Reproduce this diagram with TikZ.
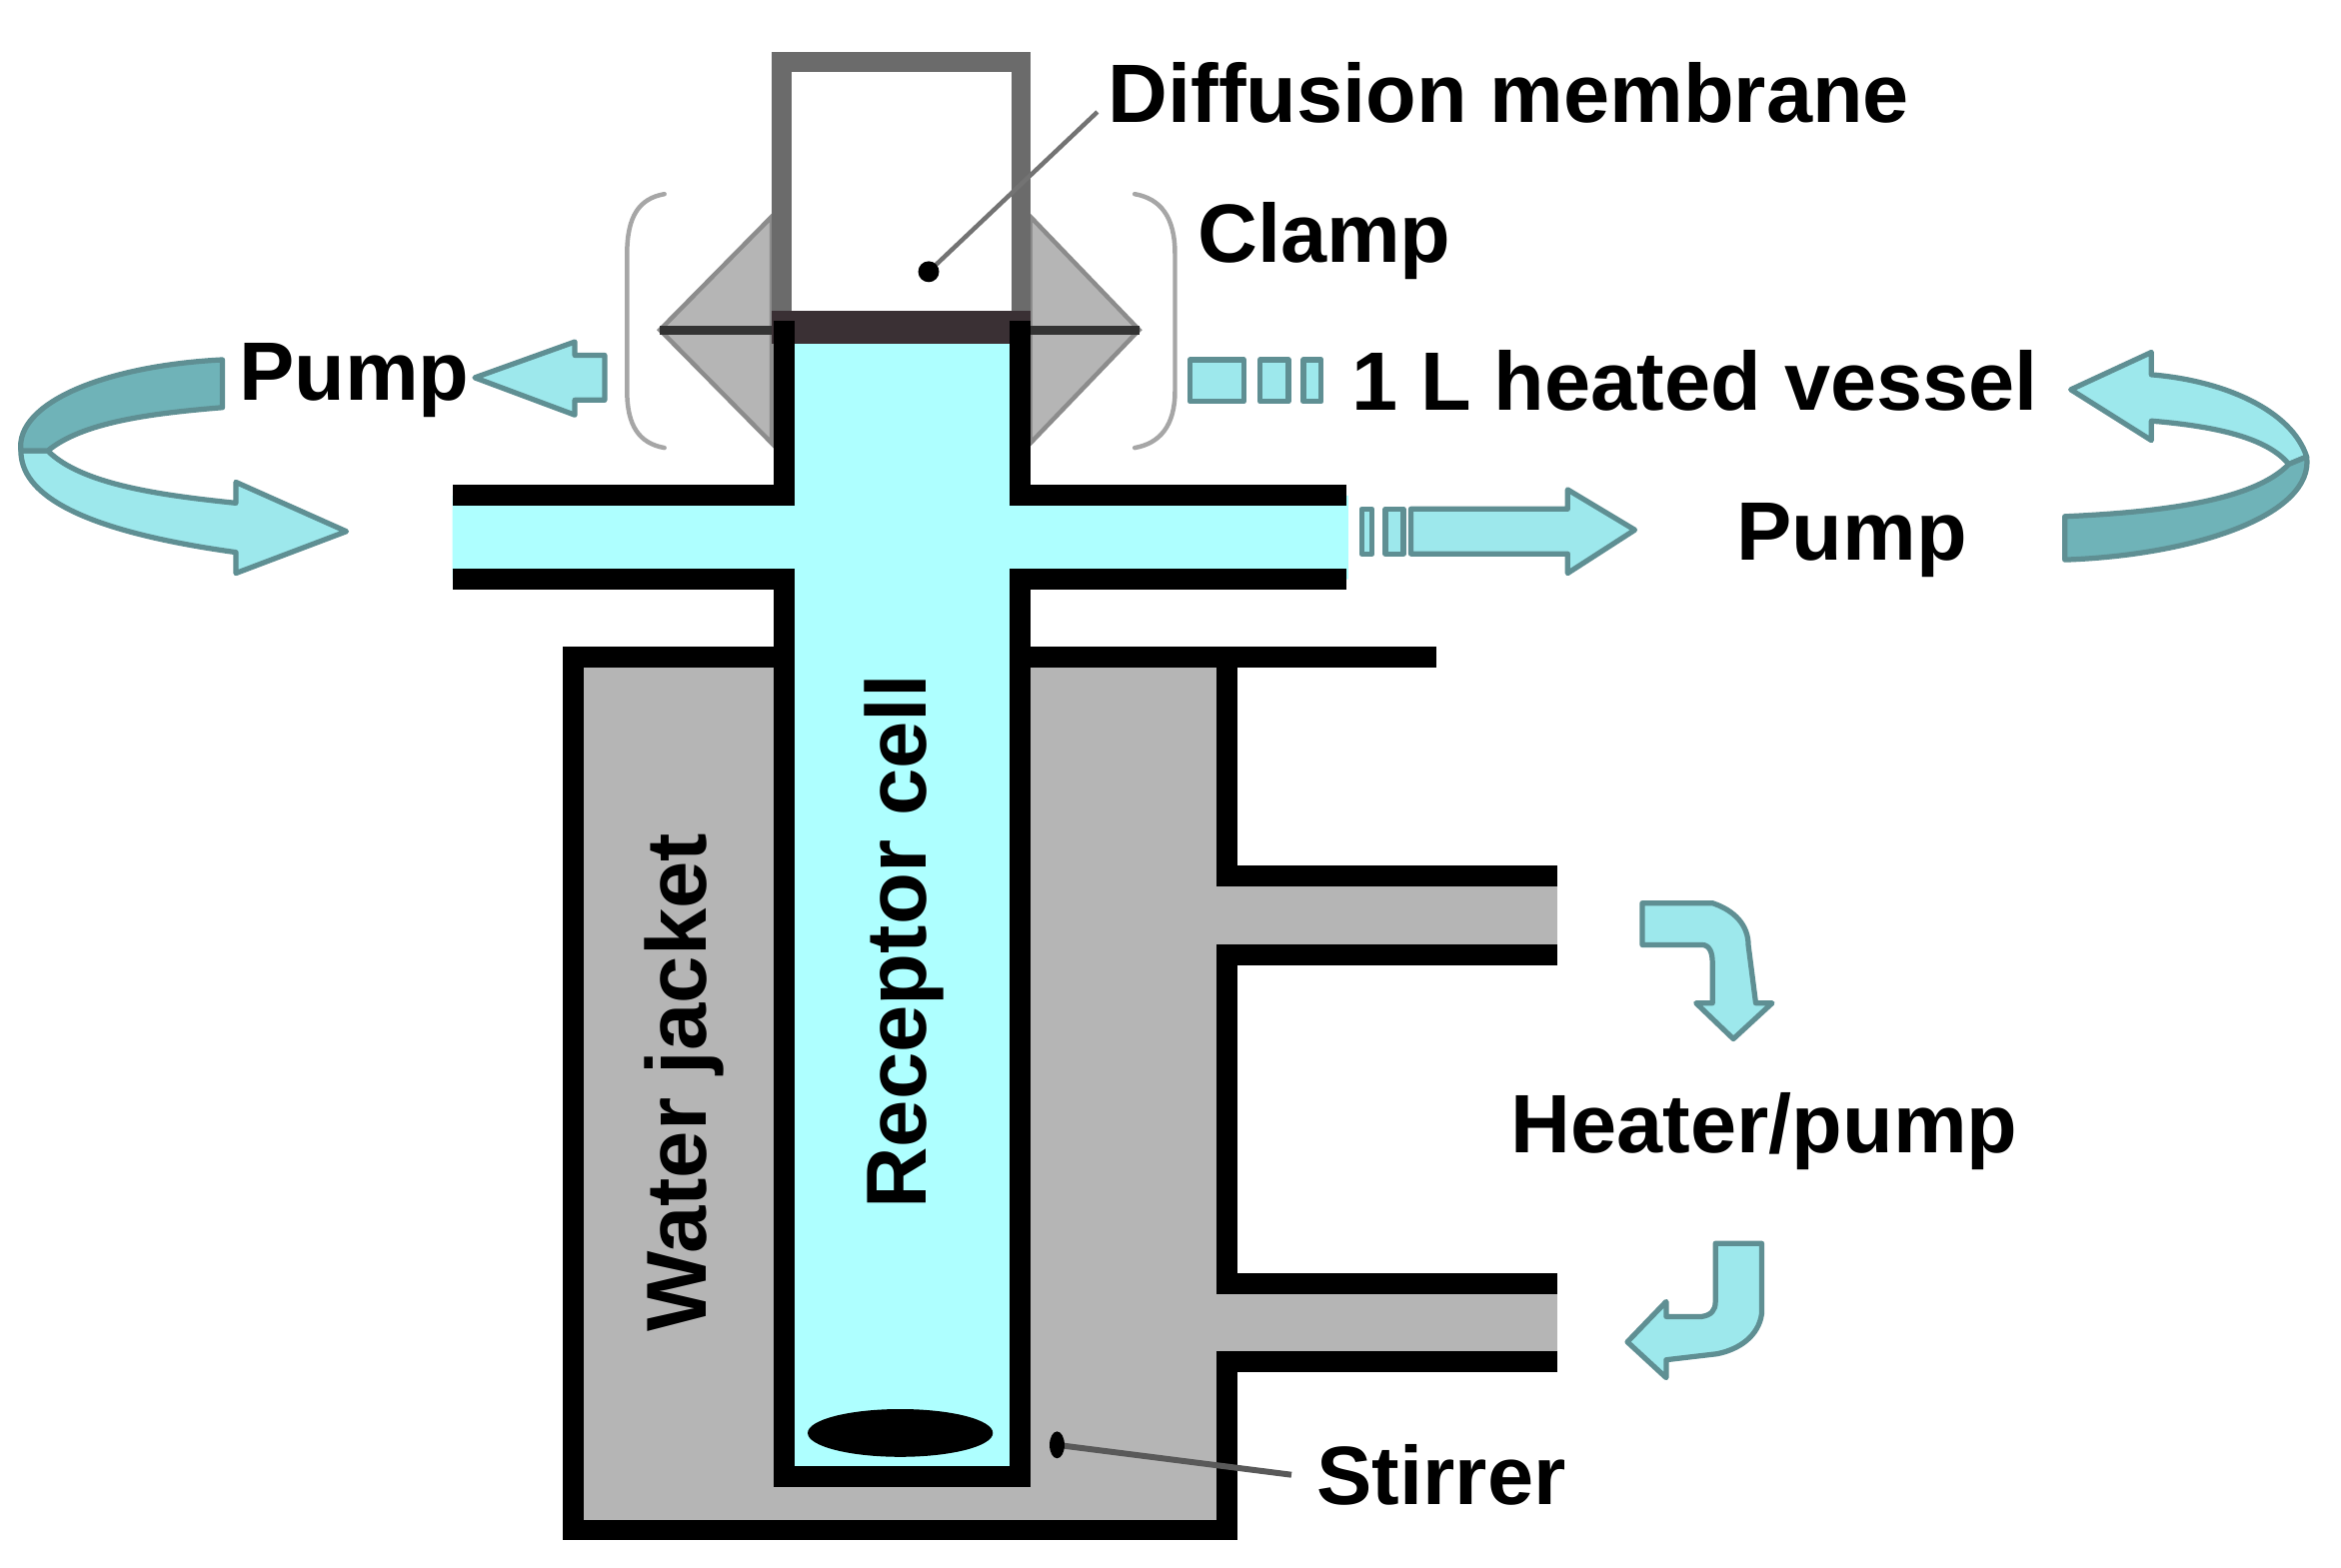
\documentclass[tikz,border=0pt]{standalone}
\usepackage{fontspec}
\usetikzlibrary{shapes.geometric}
\setmainfont{Liberation Sans}
\definecolor{cell}{HTML}{AEFFFF}
\definecolor{jacket}{HTML}{B5B5B5}
\definecolor{arrowfill}{HTML}{9DE8EC}
\definecolor{arrowdark}{HTML}{6FB3B8}
\definecolor{arrowedge}{HTML}{5F8F93}
\definecolor{membrane}{HTML}{3A3034}
\tikzset{
  wall/.style={line width=14pt,black,miter limit=10},
  glass/.style={line width=13pt,draw=black!58},
  blockarrow/.style={fill=arrowfill,draw=arrowedge,line width=3.5pt,line join=round},
  darkband/.style={fill=arrowdark,draw=arrowedge,line width=3.5pt,line join=round},
  clampwing/.style={fill=jacket,draw=black!45,line width=3pt},
  bracket/.style={draw=black!35,line width=3pt,line cap=round},
  leader/.style={draw=black!55,line width=3pt},
  lbl/.style={inner sep=0pt,anchor=base west,font=\bfseries\fontsize{55.5}{60}\selectfont},
  lblr/.style={inner sep=0pt,anchor=base west,rotate=90,font=\bfseries\fontsize{57}{60}\selectfont},
}
\begin{document}
\begin{tikzpicture}[x=1pt,y=-1pt]
\useasboundingbox (0,0) rectangle (1568,1049.8);
\fill[white] (0,0) rectangle (1568,1049.8);
% water jacket fill
\fill[jacket] (384,440) -- (822,440) -- (822,587) -- (1043,587) -- (1043,640) -- (822,640) -- (822,860) -- (1043,860) -- (1043,912) -- (822,912) -- (822,1025) -- (384,1025) -- cycle;
% clamp
\draw[clampwing] (442,221) -- (517,145) -- (517,297) -- cycle;
\draw[clampwing] (763,221) -- (690,145) -- (690,297) -- cycle;
\draw[line width=6pt,black!80] (442,221) -- (517,221);
\draw[line width=6pt,black!80] (690,221) -- (763,221);
\draw[bracket] (445,130) .. controls (428,133) and (420,145) .. (420,170) -- (420,262) .. controls (420,285) and (428,297) .. (445,300);
\draw[bracket] (760,130) .. controls (777,133) and (787,145) .. (787,170) -- (787,262) .. controls (787,285) and (777,297) .. (760,300);
% donor chamber
\fill[white] (530,48) rectangle (678,210);
\draw[glass] (523.5,215) -- (523.5,41.5) -- (684,41.5) -- (684,215);
% receptor
\fill[cell] (525,225) -- (683,225) -- (683,332) -- (903,332) -- (903,388) -- (683,388) -- (683,989) -- (525,989) -- (525,388) -- (303,388) -- (303,332) -- (525,332) -- cycle;
\fill[membrane] (517,208) rectangle (690,230);
\draw[wall] (525,215) -- (525,332) -- (303,332);
\draw[wall] (683,215) -- (683,332) -- (902,332);
\draw[wall] (303,388) -- (525,388) -- (525,989) -- (683,989) -- (683,388) -- (902,388);
% jacket walls
\draw[wall] (525,440) -- (384,440) -- (384,1025) -- (822,1025) -- (822,912) -- (1043,912);
\draw[wall] (1043,860) -- (822,860) -- (822,640) -- (1043,640);
\draw[wall] (1043,587) -- (822,587) -- (822,440);
\draw[wall] (683,440) -- (962,440);
% stirrer
\node[ellipse,fill=black,minimum width=124pt,minimum height=32pt,inner sep=0pt] (stirbar) at (603,960) {};
% labels
\node[lbl] (diff) at (742,82) {Diffusion membrane};
\node[lbl] (clamp) at (802,176) {Clamp};
\node[lbl] (pumpl) at (160,268) {Pump};
\node[lbl] (vessel) at (905,275) {1 L heated vessel};
\node[lbl] (pumpr) at (1163,375) {Pump};
\node[lbl] (heater) at (1012,772) {Heater/pump};
\node[lbl] (stirrer) at (882,1008) {Stirrer};
\node[lblr] (receptor) at (620,810) {Receptor cell};
\node[lblr] (water) at (473,892) {Water jacket};
% leaders
\coordinate (dmfree) at (735,75);
\coordinate (dmend) at (622,182);
\coordinate (stfree) at (865,988);
\coordinate (stend) at (708,968);
\draw[leader] (dmfree) -- (dmend);
\fill[black] (dmend) circle (7pt);
\draw[leader,draw=black!65,line width=4pt] (stfree) -- (stend);
\fill[black] (stend) ellipse (5pt and 9pt);
% left curved arrow
\draw[blockarrow] (14,302) .. controls (14,330) and (50,355) .. (158,370) -- (158,384) -- (232,356) -- (158,323) -- (158,337) .. controls (110,332) and (55,325) .. (32,302) -- cycle;
\draw[darkband] (149,241) -- (149,273) .. controls (100,277) and (55,283) .. (32,302) -- (14,302) .. controls (10,270) and (70,245) .. (149,241) -- cycle;
% small pump arrow
\draw[blockarrow] (318,253) -- (385,229) -- (385,238) -- (405,238) -- (405,268) -- (385,268) -- (385,278) -- cycle;
% vessel arrow fragments
\draw[blockarrow] (797,241) rectangle (833,269);
\draw[blockarrow] (844,241) rectangle (863,269);
\draw[blockarrow] (873,241) rectangle (885,269);
% outlet arrow
\draw[blockarrow] (945,341) -- (1050,341) -- (1050,328) -- (1095,355) -- (1050,384) -- (1050,371) -- (945,371) -- cycle;
\draw[blockarrow] (912,341) rectangle (919,371);
\draw[blockarrow] (928,341) rectangle (940,371);
% right curved arrow
\draw[blockarrow] (1387,261) -- (1441,236) -- (1441,251) .. controls (1490,255) and (1535,275) .. (1545,306) -- (1533,311) .. controls (1520,295) and (1490,286) .. (1441,282) -- (1441,295) -- cycle;
\draw[darkband] (1383,346) .. controls (1450,343) and (1510,335) .. (1533,311) -- (1545,306) .. controls (1550,345) and (1470,372) .. (1383,375) -- cycle;
% heater arrows
\draw[blockarrow] (1100,605) -- (1147,605) .. controls (1162,610) and (1171,620) .. (1171,633) -- (1176,672) -- (1187,672) -- (1161,696) -- (1136,672) -- (1147,672) -- (1147,645) .. controls (1147,638) and (1145,633) .. (1140,633) -- (1100,633) -- cycle;
\draw[blockarrow] (1149,833) -- (1180,833) -- (1180,880) .. controls (1178,895) and (1165,904) .. (1150,907) -- (1116,911) -- (1116,923) -- (1090,899) -- (1116,872) -- (1116,882) -- (1140,882) .. controls (1146,881) and (1149,878) .. (1149,872) -- cycle;
\end{tikzpicture}
\end{document}
